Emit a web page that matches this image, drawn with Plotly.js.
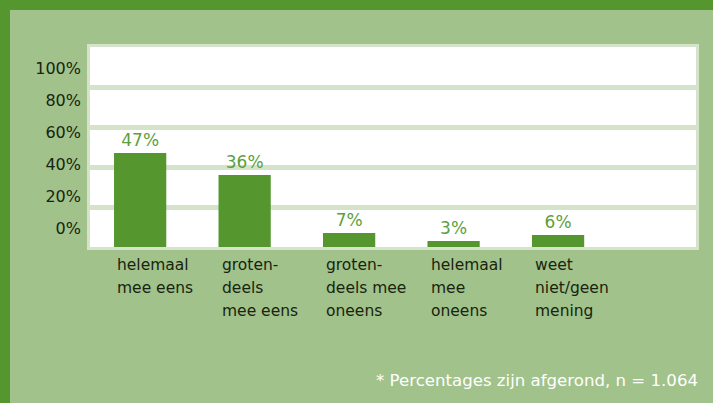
<!DOCTYPE html>
<html>
<head>
<meta charset="utf-8">
<script src="https://cdn.plot.ly/plotly-3.0.1.min.js"></script>
<style>
  html, body { margin: 0; padding: 0; width: 713px; height: 403px; background: #55962f; overflow: hidden; }
  #chart { position: absolute; left: 10px; top: 10px; width: 703px; height: 393px; }
</style>
</head>
<body>
<div id="chart"></div>
<script>
const categories = ["helemaal<br>mee eens", "groten-<br>deels<br>mee eens", "groten-<br>deels mee<br>oneens", "helemaal<br>mee<br>oneens", "weet<br>niet/geen<br>mening"];
const values = [47, 36, 7, 3, 6];
const tickValues = [0, 20, 40, 60, 80, 100];
const tickLabels = ["0%", "20%", "40%", "60%", "80%", "100%"];
const footnote = "* Percentages zijn afgerond, n = 1.064";

const xIdx = categories.map((c, i) => i);
const FONT = "DejaVu Sans, sans-serif";

const traces = [
  {
    type: "bar",
    x: xIdx,
    y: values,
    width: 0.5,
    marker: { color: "#55962f" },
    text: values.map(v => v + "%"),
    textposition: "outside",
    textfont: { family: FONT, size: 17, color: "#5c9f3c" },
    cliponaxis: false,
    hoverinfo: "none"
  },
  {
    type: "scatter",
    mode: "markers",
    x: xIdx,
    y: values,
    yaxis: "y2",
    marker: { opacity: 0 },
    hoverinfo: "none",
    showlegend: false
  }
];

const wrapLines = s => s.split("<br>").map(l => '<span style="font-size:15.5px">' + l + '</span>').join("<br>");

const annotations = categories.map((c, i) => ({
  x: i, xref: "x", y: 0, yref: "paper",
  xanchor: "left", yanchor: "top", align: "left",
  xshift: -25, yshift: -7,
  text: wrapLines(c), showarrow: false,
  font: { family: FONT, size: 17.7, color: "#18240f" }
}));
annotations.push({
  x: 1, xref: "paper", y: 0, yref: "paper",
  xanchor: "right", yanchor: "middle", xshift: 4, yshift: -133,
  text: footnote, showarrow: false,
  font: { family: FONT, size: 16.6, color: "#ffffff" }
});

const layout = {
  width: 703, height: 393,
  margin: { l: 80, r: 17, t: 37, b: 156 },
  paper_bgcolor: "#a1c28a",
  plot_bgcolor: "#ffffff",
  showlegend: false,
  xaxis: {
    range: [-0.48, 5.32],
    showticklabels: false, ticks: "", showgrid: false, zeroline: false,
    showline: true, mirror: true, linecolor: "#d5e3cb", linewidth: 3,
    fixedrange: true
  },
  yaxis: {
    range: [0, 100], dtick: 20,
    showticklabels: false, ticks: "",
    showgrid: true, gridcolor: "#d5e3cb", gridwidth: 5,
    zeroline: false,
    showline: true, mirror: true, linecolor: "#d5e3cb", linewidth: 3,
    fixedrange: true
  },
  yaxis2: {
    overlaying: "y", side: "left",
    range: [-11.8, 113.3],
    tickmode: "array", tickvals: tickValues, ticktext: tickLabels,
    ticks: "", ticklabelstandoff: 8,
    showgrid: false, zeroline: false, showline: false,
    tickfont: { family: FONT, size: 16, color: "#18240f" },
    fixedrange: true
  },
  annotations: annotations
};

Plotly.newPlot("chart", traces, layout, { displayModeBar: false, staticPlot: true });
</script>
</body>
</html>
